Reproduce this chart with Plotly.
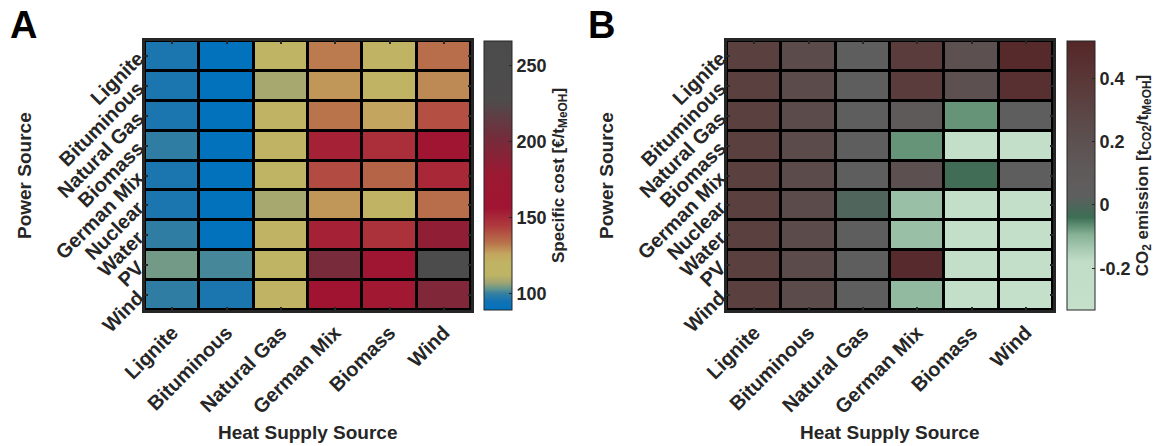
import plotly.graph_objects as go

heat_sources = ["Lignite", "Bituminous", "Natural Gas", "German Mix", "Biomass", "Wind"]
power_sources = ["Lignite", "Bituminous", "Natural Gas", "Biomass", "German Mix",
                 "Nuclear", "Water", "PV", "Wind"]

# Panel A: specific cost [€/t_MeOH]  (rows = power source, cols = heat source)
cost = [
    [96, 90, 117, 132, 120, 134],
    [96, 90, 108, 128, 118, 130],
    [96, 90, 119, 133, 126, 140],
    [99, 90, 119, 152, 148, 162],
    [96, 90, 117, 141, 136, 150],
    [96, 90, 108, 128, 118, 134],
    [99, 90, 119, 152, 147, 185],
    [104, 101, 117, 200, 165, 245],
    [99, 96, 119, 158, 155, 195],
]

# Panel B: CO2 emission [t_CO2/t_MeOH]
co2 = [
    [0.33, 0.25, 0.05, 0.36, 0.20, 0.50],
    [0.33, 0.25, 0.05, 0.36, 0.20, 0.45],
    [0.33, 0.25, 0.05, 0.10, -0.07, 0.05],
    [0.33, 0.25, 0.05, -0.07, -0.30, -0.30],
    [0.33, 0.25, 0.05, 0.20, -0.03, 0.05],
    [0.33, 0.25, 0.00, -0.12, -0.30, -0.30],
    [0.33, 0.25, 0.05, -0.12, -0.30, -0.30],
    [0.33, 0.25, 0.05, 0.48, -0.30, -0.30],
    [0.33, 0.25, 0.05, -0.11, -0.30, -0.33],
]

cost_range = [89, 266]
co2_range = [-0.332, 0.518]

cost_scale = [
    [0.0, "rgb(0,114,189)"],
    [0.034, "rgb(20,115,180)"],
    [0.062, "rgb(55,128,160)"],
    [0.079, "rgb(100,150,140)"],
    [0.102, "rgb(160,165,115)"],
    [0.13, "rgb(190,180,100)"],
    [0.175, "rgb(192,180,100)"],
    [0.209, "rgb(195,165,95)"],
    [0.249, "rgb(185,115,75)"],
    [0.311, "rgb(175,60,62)"],
    [0.379, "rgb(160,20,50)"],
    [0.503, "rgb(155,25,50)"],
    [0.644, "rgb(115,45,60)"],
    [0.78, "rgb(78,76,76)"],
    [1.0, "rgb(75,75,75)"],
]

co2_scale = [
    [0.0, "rgb(196,223,202)"],
    [0.179, "rgb(193,221,200)"],
    [0.214, "rgb(175,207,185)"],
    [0.279, "rgb(135,178,150)"],
    [0.344, "rgb(60,112,85)"],
    [0.367, "rgb(70,105,88)"],
    [0.426, "rgb(95,95,95)"],
    [0.544, "rgb(95,88,88)"],
    [0.685, "rgb(92,75,75)"],
    [0.861, "rgb(90,55,55)"],
    [1.0, "rgb(85,38,40)"],
]

W, H = 1167, 446
FONT = "Liberation Sans, Arial, Helvetica, sans-serif"
TXT = "#262626"

def px(x):
    return x / W

def py(y):
    return 1 - y / H

top, bot = 41, 310
axA = [px(145), px(471)]
axB = [px(727), px(1053)]

fig = go.Figure()

cb_common = dict(
    thickness=28, thicknessmode="pixels",
    len=(bot - top) / H, lenmode="fraction",
    y=(py(top) + py(bot)) / 2, yanchor="middle",
    xanchor="left", xpad=0, ypad=0,
    outlinewidth=1, outlinecolor=TXT,
    ticks="inside", ticklen=3, tickcolor=TXT,
    tickfont=dict(family=FONT, size=18, color=TXT, weight="bold"),
)

fig.add_trace(go.Heatmap(
    z=cost, x=heat_sources, y=power_sources,
    colorscale=cost_scale, zmin=cost_range[0], zmax=cost_range[1],
    xgap=3, ygap=3, xaxis="x", yaxis="y",
    colorbar=dict(
        x=px(484),
        tickvals=[100, 150, 200, 250],
        title=dict(text="Specific cost [€/t<sub>MeOH</sub>]", side="right",
                   font=dict(family=FONT, size=17, color=TXT, weight="bold")),
        **cb_common),
    hovertemplate="%{y} / %{x}: %{z}<extra></extra>",
))

fig.add_trace(go.Heatmap(
    z=co2, x=heat_sources, y=power_sources,
    colorscale=co2_scale, zmin=co2_range[0], zmax=co2_range[1],
    xgap=3, ygap=3, xaxis="x2", yaxis="y2",
    colorbar=dict(
        x=px(1067),
        tickvals=[-0.2, 0, 0.2, 0.4], ticktext=["-0.2", "0", "0.2", "0.4"],
        title=dict(text="CO<sub>2</sub> emission [t<sub>CO2</sub>/t<sub>MeOH</sub>]", side="right",
                   font=dict(family=FONT, size=17, color=TXT, weight="bold")),
        **cb_common),
    hovertemplate="%{y} / %{x}: %{z}<extra></extra>",
))

axis_common = dict(
    showline=True, linewidth=3, linecolor=TXT, mirror="allticks",
    ticks="inside", ticklen=3, tickwidth=2, tickcolor=TXT,
    tickangle=-45, showgrid=False, zeroline=False, automargin=False,
    tickfont=dict(family=FONT, size=20, color=TXT, weight="bold"),
    fixedrange=True,
)

fig.update_layout(
    width=W, height=H,
    margin=dict(l=0, r=0, t=0, b=0, autoexpand=False),
    paper_bgcolor="white",
    plot_bgcolor="black",
    xaxis=dict(domain=axA, anchor="y", **axis_common),
    yaxis=dict(domain=[py(bot), py(top)], anchor="x", autorange="reversed", **axis_common),
    xaxis2=dict(domain=axB, anchor="y2", **axis_common),
    yaxis2=dict(domain=[py(bot), py(top)], anchor="x2", autorange="reversed", **axis_common),
    font=dict(family=FONT, color=TXT),
)

ann = []
title_font = dict(family=FONT, size=19, color=TXT, weight="bold")
for cx in (308, 890):
    ann.append(dict(text="Heat Supply Source", x=px(cx), y=py(432), xref="paper", yref="paper",
                    showarrow=False, font=title_font, xanchor="center", yanchor="middle"))
for cx in (24, 606):
    ann.append(dict(text="Power Source", x=px(cx), y=py(176), xref="paper", yref="paper",
                    showarrow=False, font=title_font, textangle=-90, xanchor="center", yanchor="middle"))
for letter, cx in (("A", 23), ("B", 601)):
    ann.append(dict(text=letter, x=px(cx), y=py(25), xref="paper", yref="paper",
                    showarrow=False, font=dict(family=FONT, size=38, color="black", weight="bold"),
                    xanchor="center", yanchor="middle"))
fig.update_layout(annotations=ann)

fig.write_html("out.html", config={"displayModeBar": False},
               post_script="document.body.style.margin='0';document.body.style.overflow='hidden';")
